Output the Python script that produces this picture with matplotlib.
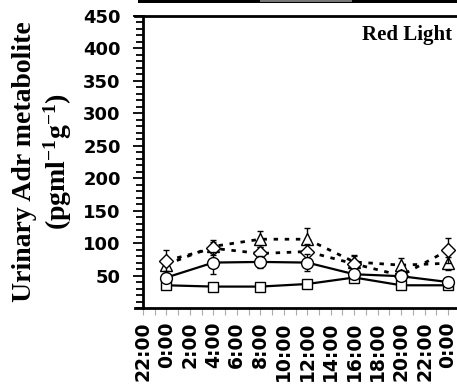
import matplotlib
matplotlib.use('Agg')
import matplotlib.pyplot as plt
from matplotlib.ticker import MultipleLocator
from matplotlib.patches import Rectangle

# x categories (2 h steps) and sampled time points
tick_labels = ['22:00', '0:00', '2:00', '4:00', '6:00', '8:00', '10:00',
               '12:00', '14:00', '16:00', '18:00', '20:00', '22:00', '0:00']
time_idx = [1, 3, 5, 7, 9, 11, 13]
y_ticks = [50, 100, 150, 200, 250, 300, 350, 400, 450]

# values
squares = [35, 33, 33, 37, 47, 35, 35]
squares_err = [3, 2, 2, 6, 3, 3, 3]
circles = [47, 70, 71, 70, 52, 49, 40]
circles_err = [6, 17, 9, 13, 4, 4, 4]
diamonds = [73, 92, 84, 87, 68, 50, 89]
diamonds_err = [16, 10, 10, 12, 12, 8, 19]
triangles = [67, 95, 106, 106, 71, 66, 69]
triangles_err = [10, 10, 12, 17, 10, 11, 10]

plt.rcParams['font.family'] = 'DejaVu Sans'
plt.rcParams['font.weight'] = 'bold'
plt.rcParams['xtick.labelsize'] = 13
plt.rcParams['ytick.labelsize'] = 13
plt.rcParams['mathtext.fontset'] = 'custom'
plt.rcParams['mathtext.rm'] = 'Liberation Serif:bold'
plt.rcParams['mathtext.it'] = 'Liberation Serif:bold'
plt.rcParams['mathtext.bf'] = 'Liberation Serif:bold'

W, H = 457, 386
fig = plt.figure(figsize=(W / 100, H / 100), dpi=100)
ax = fig.add_axes([135 / W, 78 / H, 322 / W, 292 / H])

dotted = (0, (1.6, 2.4))
common = dict(color='k', mfc='white', mec='k', mew=1.0, capsize=2.5,
              elinewidth=1.0, capthick=1.0)
ax.errorbar(time_idx, triangles, yerr=triangles_err, marker='^', ms=8,
            ls=dotted, lw=2, zorder=3, **common)
ax.errorbar(time_idx, diamonds, yerr=diamonds_err, marker='D', ms=7,
            ls=dotted, lw=2, zorder=4, **common)
ax.errorbar(time_idx, squares, yerr=squares_err, marker='s', ms=7.5,
            ls='-', lw=1.6, zorder=5, **common)
ax.errorbar(time_idx, circles, yerr=circles_err, marker='o', ms=8.5,
            ls='-', lw=1.6, zorder=6, **common)

ax.set_xlim(-0.34, 13.38)
ax.set_ylim(0, 450)

ax.set_xticks(range(len(tick_labels)), tick_labels, rotation=90)
ax.xaxis.set_minor_locator(MultipleLocator(0.5))
ax.tick_params(axis='x', which='both', direction='out', length=5, width=0.8,
               color='#aaaaaa', pad=5, labelsize=13.5)

ax.set_yticks(y_ticks, [str(v) for v in y_ticks])
ax.yaxis.set_minor_locator(MultipleLocator(10))
ax.tick_params(axis='y', which='major', direction='out', length=7, width=1.3,
               pad=9, labelsize=13)
ax.tick_params(axis='y', which='minor', direction='out', length=5, width=1.3)

ax.spines['left'].set_position(('data', 0))
ax.spines['right'].set_visible(False)
for s in ('left', 'bottom', 'top'):
    ax.spines[s].set_linewidth(2)

ax.text(0.984, 0.935, 'Red Light', transform=ax.transAxes, ha='right',
        va='center', fontsize=15, fontweight='bold', family='Liberation Serif')

fig.text(43 / W, 1 - 162 / H,
         'Urinary Adr metabolite\n(pgml$^{-1}$g$^{-1}$)',
         rotation=90, ha='center', va='center', multialignment='center',
         fontsize=20, fontweight='bold', family='Liberation Serif',
         linespacing=1.2)

# edge of the panel above
fig.add_artist(Rectangle((138 / W, 1 - 3 / H), 1, 3 / H, transform=fig.transFigure,
                         color='k', lw=0))
fig.add_artist(Rectangle((260 / W, 1 - 1.5 / H), 92 / W, 1.5 / H,
                         transform=fig.transFigure, color='#777777', lw=0))

fig.savefig('out.png', dpi=100)
